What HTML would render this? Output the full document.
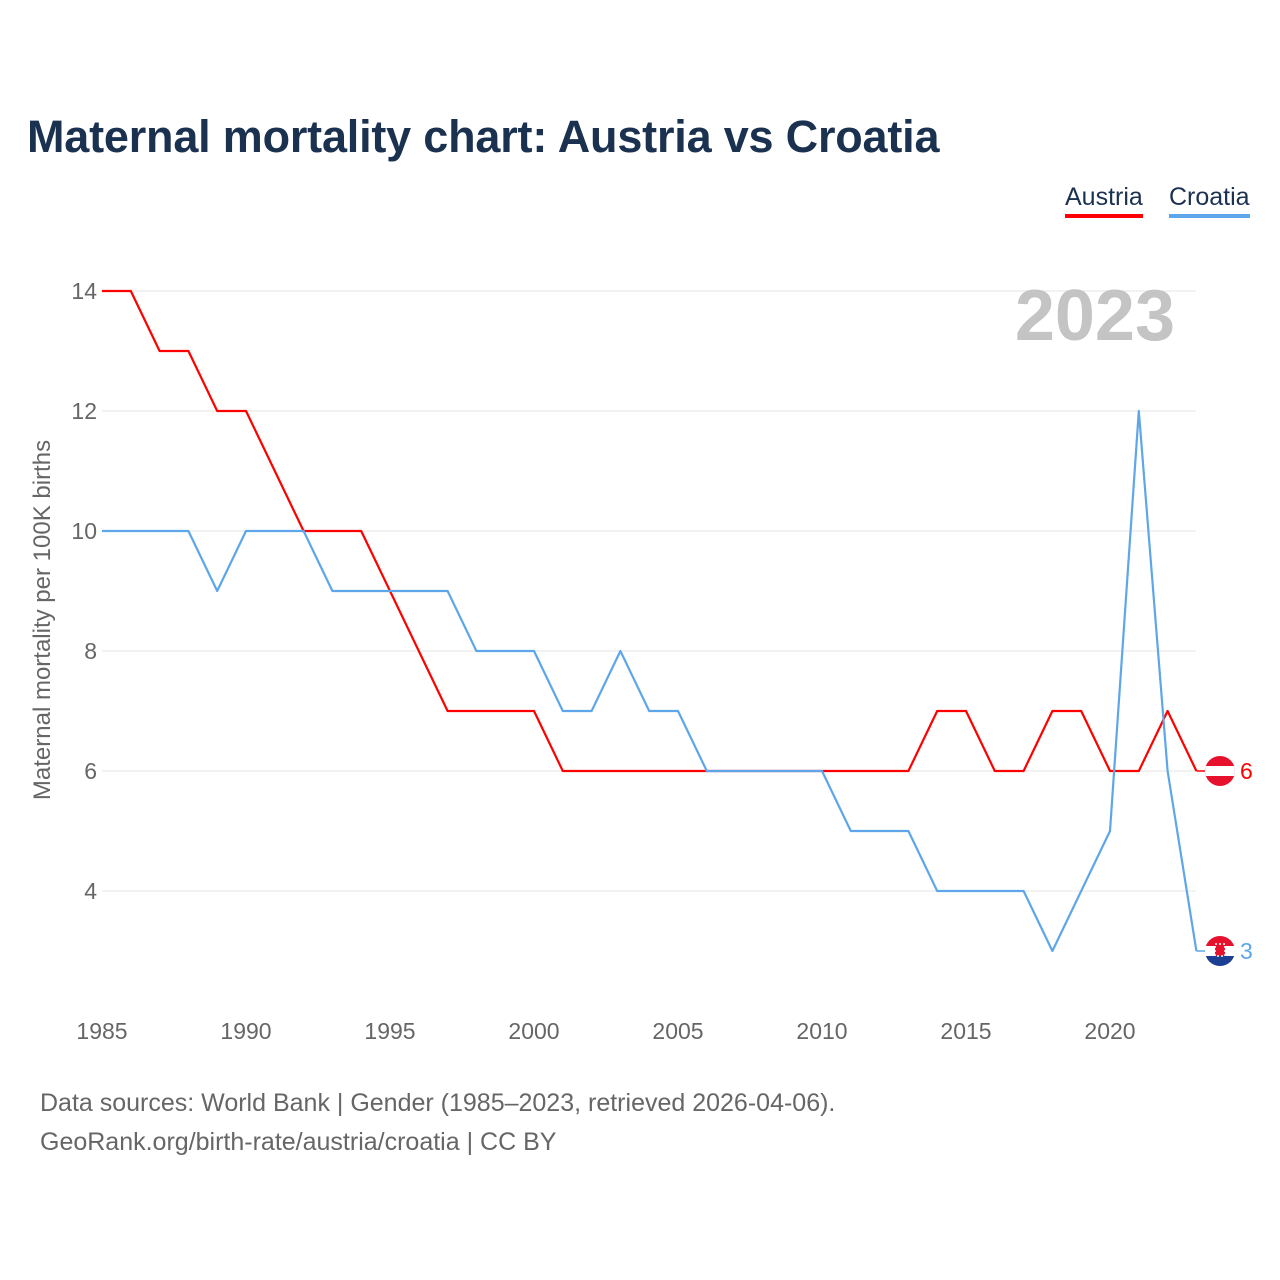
<!DOCTYPE html>
<html><head><meta charset="utf-8">
<style>
html,body{margin:0;padding:0;background:#fff;}
body{width:1280px;height:1280px;position:relative;font-family:"Liberation Sans",sans-serif;overflow:hidden;}
#title{position:absolute;left:27px;top:111px;font-size:45px;font-weight:bold;color:#1b3150;margin:0;letter-spacing:-0.2px;}
.leg{position:absolute;top:183px;font-size:25px;color:#1b3150;padding-bottom:2px;}
#src{position:absolute;left:40px;top:1084px;font-size:25px;color:#666;line-height:39px;}
</style></head><body>
<h1 id="title">Maternal mortality chart: Austria vs Croatia</h1>
<div class="leg" style="left:1065px;border-bottom:4px solid #f00">Austria</div>
<div class="leg" style="left:1169px;border-bottom:4px solid #5ea6ea">Croatia</div>
<svg id="chart" width="1280" height="1280" style="position:absolute;left:0;top:0"></svg>
<div id="src">Data sources: World Bank | Gender (1985–2023, retrieved 2026-04-06).<br>GeoRank.org/birth-rate/austria/croatia | CC BY</div>
<script>
const years=[];for(let y=1985;y<=2023;y++)years.push(y);
const austria=[14,14,13,13,12,12,11,10,10,10,9,8,7,7,7,7,6,6,6,6,6,6,6,6,6,6,6,6,6,7,7,6,6,7,7,6,6,7,6];
const croatia=[10,10,10,10,9,10,10,10,9,9,9,9,9,8,8,8,7,7,8,7,7,6,6,6,6,6,5,5,5,4,4,4,4,3,4,5,12,6,3];
const yTicks=[4,6,8,10,12,14];
const xTicks=[1985,1990,1995,2000,2005,2010,2015,2020];
const X=y=>102+(y-1985)*28.8, Y=v=>291+(14-v)*60;
const svg=document.getElementById('chart'),NS='http://www.w3.org/2000/svg';
function el(t,a,txt){const e=document.createElementNS(NS,t);for(const k in a)e.setAttribute(k,a[k]);if(txt!=null)e.textContent=txt;svg.appendChild(e);return e;}
yTicks.forEach(v=>{
 const g=el('line',{x1:102,x2:1196,y1:Y(v),y2:Y(v),stroke:'#e6e6e6','stroke-width':1});
 
 
 const t=el('text',{x:97,y:Y(v)+8,'text-anchor':'end','font-size':23,fill:'#666','font-family':'Liberation Sans,sans-serif'},v);
 
 
});
xTicks.forEach(v=>{
 const t=el('text',{x:X(v),y:1039,'text-anchor':'middle','font-size':23,fill:'#666','font-family':'Liberation Sans,sans-serif'},v);
 
 
});
const yt=el('text',{x:0,y:0,transform:'translate(50,620) rotate(-90)','text-anchor':'middle','font-size':24,fill:'#666','font-family':'Liberation Sans,sans-serif'},'Maternal mortality per 100K births');


const yr=el('text',{x:1175,y:340,'text-anchor':'end','font-size':72,'font-weight':'bold',fill:'#c4c4c4','font-family':'Liberation Sans,sans-serif'},'2023');


function series(vals,color,name){
 const d=vals.map((v,i)=>(i?'L':'M')+X(years[i])+','+Y(v)).join(' ');
 const p=el('path',{d:d,fill:'none',stroke:color,'stroke-width':2.2,'stroke-linejoin':'round'});
 
 
 const last=vals[vals.length-1],ly=Y(last);
 el('line',{x1:X(2023),x2:1212,y1:ly,y2:ly,stroke:color,'stroke-width':1.5});
 const lb=el('text',{x:1240,y:ly+8,'font-size':23,fill:color,'font-family':'Liberation Sans,sans-serif'},last);
 
 
 return ly;
}
const ay=series(austria,'#f00','austria');
const cy=series(croatia,'#5ea6ea','croatia');
let d=document.createElementNS(NS,'defs');svg.appendChild(d);
d.innerHTML='<clipPath id="c1"><circle cx="1220" cy="'+ay+'" r="15"/></clipPath><clipPath id="c2"><circle cx="1220" cy="'+cy+'" r="15"/></clipPath>';
const fa=el('g',{'clip-path':'url(#c1)'});


fa.innerHTML='<rect x="1205" y="'+(ay-15)+'" width="30" height="30" fill="#e8112d"/><rect x="1205" y="'+(ay-5)+'" width="30" height="10" fill="#fff"/>';
const fc=el('g',{'clip-path':'url(#c2)'});


fc.innerHTML='<rect x="1205" y="'+(cy-15)+'" width="30" height="10" fill="#e8112d"/><rect x="1205" y="'+(cy-5)+'" width="30" height="10" fill="#fff"/><rect x="1205" y="'+(cy+5)+'" width="30" height="10" fill="#1c3f94"/><rect x="1215" y="'+(cy-7)+'" width="10" height="12" fill="#e8112d" stroke="#fff" stroke-width="1.5" stroke-dasharray="2 2"/>';
</script>
</body></html>
